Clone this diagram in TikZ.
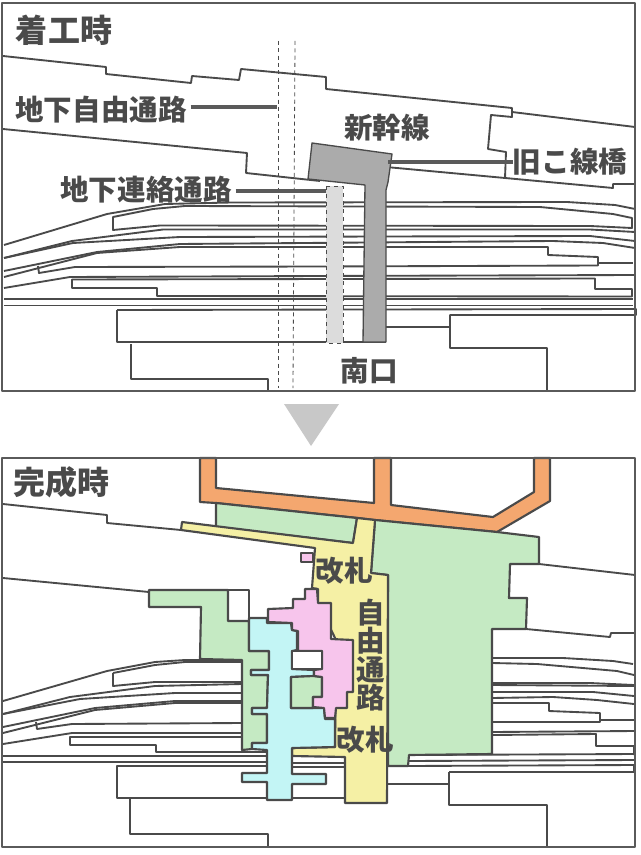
\documentclass[tikz,border=0pt]{standalone}
\usepackage{fontspec}
\setmainfont{Noto Sans CJK JP}
\usepackage{tikz}
\usetikzlibrary{positioning}
\definecolor{inkgrey}{HTML}{4A4A4A}
\definecolor{framegrey}{HTML}{5A5A5A}
\definecolor{oldgrey}{HTML}{ABABAB}
\definecolor{dashgrey}{HTML}{DCDCDC}
\definecolor{arrowgrey}{HTML}{C8C8C8}
\definecolor{orangeway}{HTML}{F4A76F}
\definecolor{greenarea}{HTML}{C5EAC3}
\definecolor{yellowway}{HTML}{F5F0A5}
\definecolor{pinkarea}{HTML}{F7C5EC}
\definecolor{cyanarea}{HTML}{C3F5F5}

\begin{document}
\begin{tikzpicture}[x=0.75pt,y=-0.75pt,line join=round,
                    track/.style={draw=inkgrey,line width=1.4pt},
                    area/.style={draw=inkgrey,line width=1.6pt},
                    frame/.style={draw=framegrey,line width=1.6pt},
                    leader/.style={draw=framegrey,line width=2.4pt},
                    dashline/.style={draw=inkgrey,line width=0.6pt,dash pattern=on 3pt off 2.5pt},
                    main label/.style={text=inkgrey,inner sep=0pt,font=\fontsize{21.4}{21.4}\selectfont\bfseries},
                    title label/.style={text=inkgrey,inner sep=0pt,font=\fontsize{24}{24}\selectfont\bfseries}]

  \useasboundingbox (0,0) rectangle (640,855);

  % top panel: buildings
  \draw[track] (3,56) -- (106,67) -- (106,74) -- (191,83) -- (192,76) -- (239,80) -- (241,69)
    -- (326,77) -- (326,89) -- (512,108) -- (512,117) -- (491,115) -- (488,149) -- (506,152) -- (505,178);
  \draw[track] (512,112) -- (635,127);
  \draw[track] (3,129) -- (247,153) -- (246,173) -- (320,181);
  \draw[track] (386,167) -- (505,178) -- (613,188) -- (613,184) -- (635,184);

  % top panel: tracks
  \draw[track] (4,245) -- (107,214) -- (165,204) -- (231,202.5) -- (567,202) -- (615,205) -- (635,209);
  \draw[track] (113,217) -- (153,209) -- (185,206) -- (540,207) -- (613,214) -- (632,218) -- (632,228)
    -- (590,226) -- (160,225.5) -- (113,230) -- cycle;
  \draw[track] (4,258) -- (72,241) -- (163,229.5) -- (590,229.5) -- (635,232);
  \draw[track] (4,258) -- (73,243) -- (180,237) -- (590,236) -- (635,241);
  \draw[track] (4,271) -- (97,252) -- (180,244) -- (553,241) -- (603,243) -- (635,248);
  \draw[track] (4,277) -- (97,253) -- (180,247) -- (548,247) -- (548,255) -- (598,257) -- (598,265.5)
    -- (320,266.5) -- (75,267) -- (39,273) -- (38,266);
  \draw[track] (598,263) -- (633,263);
  \draw[track] (4,288) -- (70,277) -- (320,276) -- (635,275);
  \draw[track] (72,279.5) -- (72,288) -- (157,288) -- (157,296) -- (632,296.5) -- (632,289) -- (595,289)
    -- (595,278.5) -- cycle;
  \draw[track] (4,299) -- (633,299);
  \draw[track] (4,305.5) -- (633,305.5);
  \draw[track] (117,310) -- (636,309) -- (636,315) -- (450,315) -- (450,348) -- (547,348) -- (547,391);
  \draw[track] (386,327) -- (450,327);
  \draw[track] (117,310) -- (117,342) -- (386,342);
  \draw[track] (131,344) -- (131,379) -- (268,379) -- (268,391);

  % top panel: old passage and bridge
  \draw[dashline] (278,41) -- (278,388);
  \draw[dashline] (295,41) -- (293,388);
  \draw[draw=inkgrey,line width=0.5pt,dashed,fill=dashgrey] (326,186) rectangle (343,343);
  \draw[draw=inkgrey,line width=1pt,fill=oldgrey] (312,143) -- (392,154) -- (388,182) -- (386,190) -- (386,342)
    -- (363,342) -- (365,185) -- (308,179) -- cycle;
  \draw[frame] (2,3) rectangle (635,391);

  % top panel: labels and leaders
  \node[title label] (title1) at (64,30) {着工時};
  \node[main label,outer xsep=3pt] (freeway) at (101,110) {地下自由通路};
  \node[main label,outer xsep=3pt] (linkway) at (146,190) {地下連絡通路};
  \node[main label] (shinkansen) at (387,128) {新幹線};
  \node[main label] (oldbridge) at (570,162) {旧こ線橋};
  \node[main label] (southgate) at (369,371) {南口};
  \coordinate (freeway end) at (277,107);
  \coordinate (linkway end) at (326,191);
  \coordinate (oldbridge end) at (388,162);

  \draw[leader] (freeway.east |- freeway end) -- (freeway end);
  \draw[leader] (linkway.east |- linkway end) -- (linkway end);
  \draw[leader] (oldbridge.west |- oldbridge end) -- (oldbridge end);

  % down arrow between panels
  \fill[arrowgrey] (284,404) -- (339,404) -- (311,446) -- cycle;

  % bottom panel: buildings
  \draw[track] (3,504) -- (107,515) -- (107,523) -- (181,530);
  \draw[track] (3,578) -- (149,592);
  \draw[track] (539,564) -- (635,575);
  \draw[track] (526,629) -- (610,637) -- (611,633) -- (635,633);

  % bottom panel: tracks, left of the concourse
  \draw[track] (3,701) -- (107,671) -- (155,662) -- (185,660) -- (242,660);
  \draw[track] (113,673) -- (155,665) -- (185,662) -- (242,662);
  \draw[track] (113,673) -- (113,686) -- (155,682) -- (242,682);
  \draw[track] (3,714) -- (70,697) -- (155,686) -- (242,684);
  \draw[track] (3,714) -- (80,699) -- (175,693) -- (242,693);
  \draw[track] (3,727) -- (95,708) -- (175,701) -- (242,701);
  \draw[track] (3,733) -- (95,710) -- (175,703) -- (242,703);
  \draw[track] (36,722) -- (37,729) -- (72,724) -- (242,723);
  \draw[track] (3,744) -- (72,733) -- (242,733);
  \draw[track] (242,737) -- (70,737) -- (70,745) -- (156,745) -- (156,752) -- (267,752);
  \draw[track] (3,756) -- (267,756);
  \draw[track] (3,762) -- (267,762);
  \draw[track] (267,766) -- (117,766) -- (117,798) -- (345,798);
  \draw[track] (130,799) -- (130,834) -- (268,834) -- (268,847);
  \draw[track] (292,763) -- (345,763);
  \draw[track] (292,767) -- (345,767);
  % bottom panel: tracks, right of the concourse
  \draw[track] (492,658) -- (563,658) -- (613,661) -- (633,664);
  \draw[track] (492,663) -- (537,664) -- (617,671) -- (634,675);
  \draw[track] (492,683) -- (590,683) -- (634,685);
  \draw[track] (492,685) -- (634,686);
  \draw[track] (492,692) -- (593,692) -- (634,696);
  \draw[track] (492,698) -- (553,697) -- (597,700) -- (634,704);
  \draw[track] (492,703) -- (549,703) -- (549,711) -- (600,713) -- (600,722) -- (492,722);
  \draw[track] (600,720) -- (634,720);
  \draw[track] (492,732) -- (635,731);
  \draw[track] (492,735) -- (596,734) -- (596,746) -- (634,746) -- (634,755);
  \draw[track] (409,755) -- (635,754);
  \draw[track] (408,761) -- (635,760);
  \draw[track] (408,766) -- (634,765) -- (634,772);
  \draw[track] (387,784) -- (449,784);
  \draw[track] (449,772) -- (635,772);
  \draw[track] (449,772) -- (449,805) -- (547,805) -- (547,847);

  % bottom panel: new facilities
  \draw[area,fill=orangeway] (200,458) -- (216,458) -- (216,488) -- (374,503) -- (374,458) -- (391,458)
    -- (391,505) -- (493,517) -- (534,492) -- (534,458) -- (550,458) -- (550,501) -- (497,532)
    -- (375,520) -- (358,518) -- (216,503) -- (200,502) -- cycle;
  \draw[area,fill=greenarea] (216,503) -- (357,518) -- (353,543) -- (216,527) -- cycle;
  \draw[area,fill=greenarea] (375,520) -- (497,532) -- (539,537) -- (539,564) -- (510,564) -- (509,598)
    -- (527,598) -- (526,629) -- (492,629) -- (492,754) -- (409,755) -- (408,766) -- (388,766)
    -- (388,575) -- (371,573) -- cycle;
  \draw[area,fill=yellowway] (182,522) -- (353,543) -- (357,518) -- (375,520) -- (371,573) -- (388,575)
    -- (387,803) -- (345,803) -- (345,757) -- (292,756) -- (292,748) -- (335,747) -- (336,640)
    -- (318,603) -- (318,589) -- (312,588) -- (315,548) -- (181,530) -- cycle;
  \draw[area,fill=pinkarea] (301,553) rectangle (313,562);
  \draw[area,fill=greenarea] (149,590) -- (228,590) -- (228,621) -- (249,621) -- (249,651) -- (269,651)
    -- (269,670) -- (251,670) -- (251,675) -- (268,675) -- (267,708) -- (252,708) -- (252,714)
    -- (267,714) -- (267,743) -- (252,743) -- (252,749) -- (242,750) -- (242,660) -- (200,659)
    -- (201,607) -- (149,607) -- cycle;
  \draw[area] (228,590) -- (249,590) -- (249,621);
  \draw[area,fill=cyanarea] (249,618) -- (267,618) -- (267,623) -- (291,623) -- (292,630) -- (297,631)
    -- (297,650) -- (292,651) -- (292,669) -- (314,670) -- (314,676) -- (291,677) -- (291,708)
    -- (324,708) -- (325,719) -- (335,719) -- (335,747) -- (292,748) -- (292,774) -- (326,774)
    -- (326,784) -- (292,784) -- (292,800) -- (267,800) -- (267,782) -- (242,782) -- (242,773)
    -- (267,773) -- (267,750) -- (252,749) -- (252,743) -- (267,743) -- (267,714) -- (252,714)
    -- (252,708) -- (267,708) -- (268,675) -- (251,675) -- (251,670) -- (269,670) -- (269,651)
    -- (249,651) -- cycle;
  \draw[area,fill=greenarea] (291,677) -- (314,676) -- (322,677) -- (322,697) -- (313,697) -- (313,708)
    -- (291,708) -- cycle;
  \draw[area,fill=pinkarea] (305,589) -- (317,589) -- (318,603) -- (331,603) -- (331,639) -- (353,640)
    -- (353,692) -- (347,692) -- (347,708) -- (336,708) -- (335,718) -- (325,718) -- (324,708)
    -- (313,707) -- (313,697) -- (322,697) -- (322,677) -- (314,676) -- (314,670) -- (322,669)
    -- (322,651) -- (298,651) -- (298,631) -- (292,630) -- (292,623) -- (268,622) -- (268,609)
    -- (293,608) -- (293,599) -- (305,599) -- cycle;
  \draw[area,fill=white] (292,651) rectangle (322,669);
  \draw[frame] (2,458) rectangle (635,847);

  % bottom panel: labels
  \node[title label] (title2) at (61,482) {完成時};
  \node[main label] (gate1) at (344,571) {改札};
  \node[main label,align=center] (freepath) at (371,655) {自\\由\\通\\路};
  \node[main label] (gate2) at (365,740) {改札};
\end{tikzpicture}
\end{document}
